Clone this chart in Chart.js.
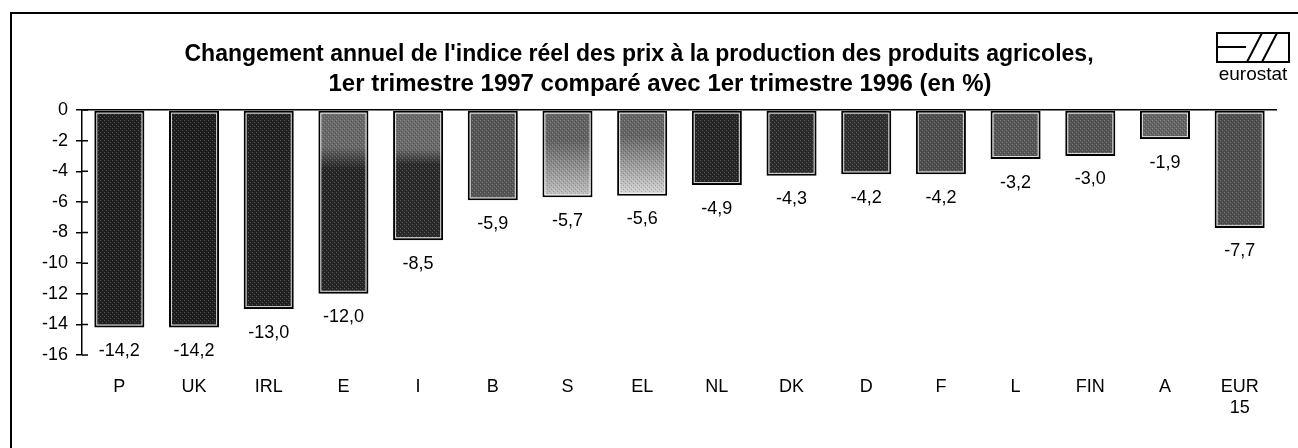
<!DOCTYPE html>
<html>
<head>
<meta charset="utf-8">
<script src="https://cdn.jsdelivr.net/npm/chart.js@4/dist/chart.umd.min.js"></script>
<style>
  html, body { margin: 0; padding: 0; background: #fff; }
  canvas { display: block; }
</style>
</head>
<body>
<canvas id="chart" width="1298" height="448"></canvas>
<script>
// données
const categories = ['P', 'UK', 'IRL', 'E', 'I', 'B', 'S', 'EL', 'NL', 'DK', 'D', 'F', 'L', 'FIN', 'A', ['EUR', '15']];
const values = [-14.2, -14.2, -13.0, -12.0, -8.5, -5.9, -5.7, -5.6, -4.9, -4.3, -4.2, -4.2, -3.2, -3.0, -1.9, -7.7];
const yMin = -16;
const yMax = 0;
const yStep = 2;
const titleLines = [
    "Changement annuel de l'indice réel des prix à la production des produits agricoles,",
    "1er trimestre 1997 comparé avec 1er trimestre 1996 (en %)"
];

// teintes des barres : [haut, bas, début du fondu, fin du fondu]
const barShades = [
    ['#202020', '#202020', 0, 1],
    ['#1e1e1e', '#1e1e1e', 0, 1],
    ['#222222', '#222222', 0, 1],
    ['#686868', '#262626', 0.2, 0.32],
    ['#6a6a6a', '#2a2a2a', 0.3, 0.42],
    ['#555555', '#555555', 0, 1],
    ['#626262', '#c4c4c4', 0.35, 1],
    ['#646464', '#d8d8d8', 0.3, 1],
    ['#262626', '#262626', 0, 1],
    ['#2c2c2c', '#2c2c2c', 0, 1],
    ['#303030', '#303030', 0, 1],
    ['#4e4e4e', '#4e4e4e', 0, 1],
    ['#575757', '#575757', 0, 1],
    ['#545454', '#545454', 0, 1],
    ['#646464', '#646464', 0, 1],
    ['#4e4e4e', '#4e4e4e', 0, 1]
];

const FONT = '"Liberation Sans", Arial, sans-serif';

const fmt = v => v.toFixed(1).replace('.', ',');

// petite trame pour imiter l'impression
const makeTexture = () => {
    const c = document.createElement('canvas');
    c.width = 4;
    c.height = 4;
    const g = c.getContext('2d');
    g.fillStyle = 'rgba(255,255,255,0.22)';
    g.fillRect(0, 0, 1, 1);
    g.fillRect(2, 2, 1, 1);
    g.fillStyle = 'rgba(0,0,0,0.18)';
    g.fillRect(1, 3, 1, 1);
    g.fillRect(3, 1, 1, 1);
    return c;
};

const barFill = (ctx) => {
    const i = ctx.dataIndex;
    const s = barShades[i];
    const chart = ctx.chart;
    const y = chart.scales && chart.scales.y;
    if (!y || !chart.chartArea) return s[1];
    const y0 = y.getPixelForValue(0);
    const y1 = y.getPixelForValue(values[i]);
    const g = chart.ctx.createLinearGradient(0, y0, 0, y1);
    g.addColorStop(0, s[0]);
    g.addColorStop(s[2], s[0]);
    g.addColorStop(s[3], s[1]);
    g.addColorStop(1, s[1]);
    return g;
};

const decorPlugin = {
    id: 'decor',
    beforeDraw(chart) {
        const c = chart.ctx;
        c.save();
        c.fillStyle = '#fff';
        c.fillRect(0, 0, chart.width, chart.height);
        // cadre
        c.strokeStyle = '#000';
        c.lineWidth = 2;
        c.beginPath();
        c.moveTo(10, 13);
        c.lineTo(chart.width, 13);
        c.moveTo(11, 12);
        c.lineTo(11, chart.height);
        c.stroke();
        // titre
        c.fillStyle = '#000';
        c.textAlign = 'center';
        c.textBaseline = 'alphabetic';
        c.font = 'bold 23px ' + FONT;
        c.fillText(titleLines[0], 639, 61);
        c.font = 'bold 24px ' + FONT;
        c.fillText(titleLines[1], 660, 91);
        // logo eurostat
        c.lineWidth = 2;
        c.strokeRect(1217, 33, 72, 29);
        c.beginPath();
        c.moveTo(1217, 47);
        c.lineTo(1246, 47);
        c.moveTo(1247, 62);
        c.lineTo(1262, 33);
        c.moveTo(1262, 62);
        c.lineTo(1277, 33);
        c.stroke();
        c.font = '19px ' + FONT;
        c.textAlign = 'center';
        c.fillText('eurostat', 1253, 80);
        c.restore();
    },
    afterDatasetsDraw(chart) {
        const c = chart.ctx;
        const meta = chart.getDatasetMeta(0);
        const pattern = c.createPattern(makeTexture(), 'repeat');
        c.save();
        meta.data.forEach((bar, i) => {
            const p = bar.getProps(['x', 'y', 'base', 'width'], true);
            const left = p.x - p.width / 2;
            const top = Math.min(p.y, p.base);
            const h = Math.abs(p.y - p.base);
            c.fillStyle = pattern;
            c.fillRect(left + 3, top + 3, p.width - 6, h - 6);
            c.strokeStyle = 'rgba(255,255,255,0.8)';
            c.lineWidth = 1;
            c.strokeRect(left + 2.5, top + 2.5, p.width - 5, h - 5);
            // étiquette de valeur
            c.fillStyle = '#000';
            c.font = '18px ' + FONT;
            c.textAlign = 'center';
            c.textBaseline = 'alphabetic';
            c.fillText(fmt(values[i]), p.x, p.y + 28.5);
        });
        c.restore();
    },
    afterDraw(chart) {
        // graduations qui traversent l'axe
        const c = chart.ctx;
        const y = chart.scales.y;
        const left = chart.chartArea.left;
        c.save();
        c.strokeStyle = '#000';
        c.lineWidth = 1.5;
        c.beginPath();
        y.ticks.forEach(t => {
            const py = y.getPixelForValue(t.value);
            c.moveTo(left, py);
            c.lineTo(left + 6, py);
        });
        c.stroke();
        c.restore();
    }
};

new Chart(document.getElementById('chart').getContext('2d'), {
    type: 'bar',
    data: {
        labels: categories,
        datasets: [{
            data: values,
            backgroundColor: barFill,
            borderColor: '#000',
            borderWidth: 2,
            borderSkipped: false,
            barPercentage: 0.67,
            categoryPercentage: 1
        }]
    },
    options: {
        responsive: false,
        animation: false,
        events: [],
        layout: {
            padding: { top: 110, left: 22, right: 21, bottom: 13 }
        },
        plugins: {
            legend: { display: false },
            title: { display: false },
            tooltip: { enabled: false }
        },
        scales: {
            x: {
                grid: { display: false },
                border: { display: false },
                ticks: {
                    color: '#000',
                    font: { family: FONT, size: 18, lineHeight: 1.15 },
                    padding: 14,
                    maxRotation: 0,
                    autoSkip: false
                },
                afterFit(scale) { scale.height = 80; }
            },
            y: {
                min: yMin,
                max: yMax,
                grid: {
                    drawOnChartArea: true,
                    color: ctx => (ctx.tick && ctx.tick.value === 0) ? '#000' : 'rgba(0,0,0,0)',
                    lineWidth: 1.5,
                    tickColor: '#000',
                    tickLength: 6
                },
                border: { display: true, color: '#000', width: 1.5 },
                ticks: {
                    stepSize: yStep,
                    color: '#000',
                    font: { family: FONT, size: 18 },
                    padding: 8,
                    callback: v => String(v)
                },
                afterFit(scale) { scale.width = 60; }
            }
        }
    },
    plugins: [decorPlugin]
});
</script>
</body>
</html>
